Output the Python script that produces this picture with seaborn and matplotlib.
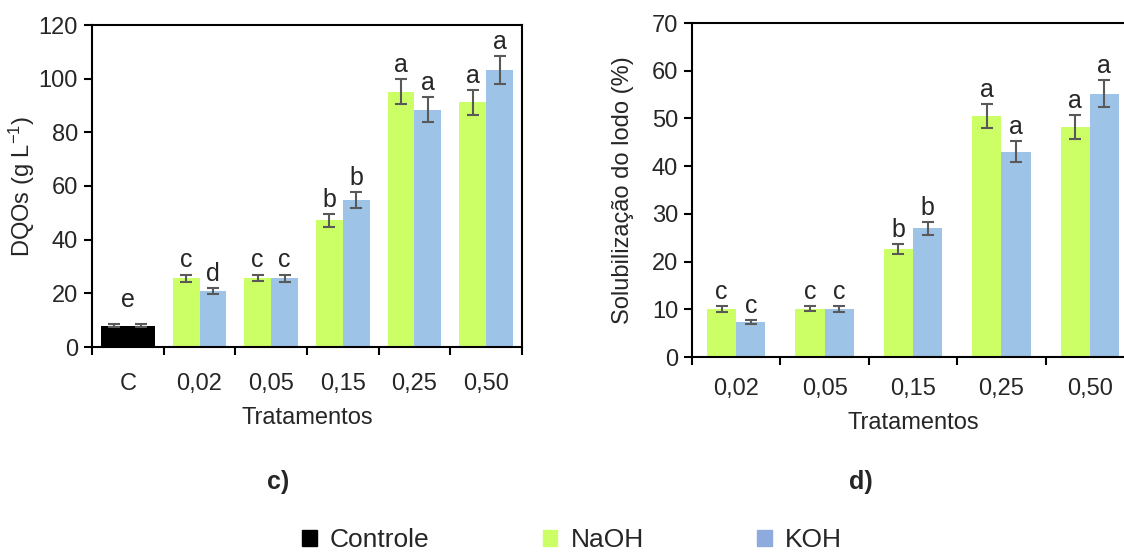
import numpy as np
import pandas as pd
import matplotlib.pyplot as plt
import seaborn as sns
from matplotlib.patches import Patch

# painel c) DQOs
trat_c = ['C', '0,02', '0,05', '0,15', '0,25', '0,50']
dqo_naoh = [8.0, 25.6, 25.8, 47.2, 95.2, 91.2]
dqo_koh = [8.0, 20.9, 25.6, 54.7, 88.5, 103.2]
dqo_naoh_err = [0.4, 1.4, 1.2, 2.5, 4.8, 4.6]
dqo_koh_err = [0.4, 1.05, 1.4, 2.9, 4.5, 5.2]
dqo_naoh_let = ['e', 'c', 'c', 'b', 'a', 'a']
dqo_koh_let = ['', 'd', 'c', 'b', 'a', 'a']

# painel d) solubilizacao
trat_d = ['0,02', '0,05', '0,15', '0,25', '0,50']
sol_naoh = [10.0, 10.1, 22.6, 50.5, 48.2]
sol_koh = [7.4, 10.1, 27.0, 43.0, 55.2]
sol_naoh_err = [0.6, 0.55, 1.1, 2.5, 2.45]
sol_koh_err = [0.4, 0.6, 1.35, 2.2, 2.8]
sol_naoh_let = ['c', 'c', 'b', 'a', 'a']
sol_koh_let = ['c', 'c', 'b', 'a', 'a']

verde = '#CCFF66'
azul = '#9DC3E6'
cinza = '#595959'

sns.set_style('ticks')
plt.rcParams['font.family'] = ['Liberation Sans', 'DejaVu Sans']
plt.rcParams['mathtext.default'] = 'regular'
plt.rcParams['axes.linewidth'] = 1.5

FS = 17


def painel(ax, trat, naoh, koh, naoh_err, koh_err, let_naoh, let_koh, width, ymax, ystep, ylabel, xpad):
    n = len(trat)
    df = pd.DataFrame({
        'Tratamentos': trat + trat,
        'agente': ['NaOH'] * n + ['KOH'] * n,
        'valor': naoh + koh,
    })
    sns.barplot(data=df, x='Tratamentos', y='valor', hue='agente', order=trat,
                palette=[verde, azul], saturation=1, width=width, linewidth=0,
                errorbar=None, legend=False, ax=ax)

    for cont, errs, lets in zip(ax.containers, [naoh_err, koh_err], [let_naoh, let_koh]):
        for i, bar in enumerate(cont):
            if trat[i] == 'C':
                bar.set_facecolor('black')
            x = bar.get_x() + bar.get_width() / 2
            h = bar.get_height()
            ax.errorbar(x, h, yerr=errs[i], fmt='none', ecolor=cinza, elinewidth=1.5,
                        capsize=4, capthick=1.5, zorder=5)
            if lets[i]:
                if trat[i] == 'C':
                    x = bar.get_x() + bar.get_width()
                    off = 9
                else:
                    off = 1.5
                ax.annotate(lets[i], (x, h + errs[i]), xytext=(0, off), textcoords='offset points',
                            ha='center', va='bottom', fontsize=FS + 1)

    ax.set_xlim(-0.5, n - 0.5)
    ax.set_ylim(0, ymax)
    ax.set_yticks(np.arange(0, ymax + 1, ystep))
    ax.set_xticks(np.arange(-0.5, n, 1), minor=True)
    ax.tick_params(axis='x', which='major', length=0, pad=xpad, labelsize=FS)
    ax.tick_params(axis='x', which='minor', length=6, width=1.5, direction='out', color='black')
    ax.tick_params(axis='y', length=6, width=1.5, direction='out', color='black', labelsize=FS, pad=4)
    for s in ax.spines.values():
        s.set_color('black')
        s.set_linewidth(1.5)
    ax.set_xlabel('Tratamentos', fontsize=FS)
    ax.set_ylabel(ylabel, fontsize=FS)


fig = plt.figure(figsize=(11.24, 5.53), dpi=100)
ax1 = fig.add_axes([92 / 1124, 1 - 347 / 553, 430 / 1124, 322 / 553])
ax2 = fig.add_axes([692 / 1124, 1 - 357 / 553, 442 / 1124, 334 / 553])

painel(ax1, trat_c, dqo_naoh, dqo_koh, dqo_naoh_err, dqo_koh_err, dqo_naoh_let, dqo_koh_let,
       0.75, 120, 20, 'DQOs (g L$^{-1}$)', 19)
painel(ax2, trat_d, sol_naoh, sol_koh, sol_naoh_err, sol_koh_err, sol_naoh_let, sol_koh_let,
       0.66, 70, 10, 'Solubilização do lodo (%)', 15)

ax1.xaxis.set_label_coords(0.5, (347 - 418) / 322)
ax1.xaxis.label.set_va('center')
ax2.xaxis.set_label_coords(0.5, (357 - 423) / 334)
ax2.xaxis.label.set_va('center')
ax1.yaxis.set_label_coords((22 - 92) / 430, 0.5)
ax1.yaxis.label.set_va('center')
ax2.yaxis.set_label_coords((623 - 692) / 442, 0.5)
ax2.yaxis.label.set_va('center')

fig.text(278 / 1124, 1 - 482 / 553, 'c)', fontsize=FS + 1, fontweight='bold', ha='center', va='center')
fig.text(861 / 1124, 1 - 482 / 553, 'd)', fontsize=FS + 1, fontweight='bold', ha='center', va='center')

handles = [Patch(color='black', label='Controle'),
           Patch(color=verde, label='NaOH'),
           Patch(color='#8FAADC', label='KOH')]
fig.legend(handles=handles, loc='center', bbox_to_anchor=(572 / 1124, 1 - 540 / 553), ncol=3,
           frameon=False, fontsize=FS + 2, handlelength=0.55, handleheight=0.55,
           handletextpad=0.5, columnspacing=4.3, borderpad=0)

fig.savefig('out.png', dpi=100)
